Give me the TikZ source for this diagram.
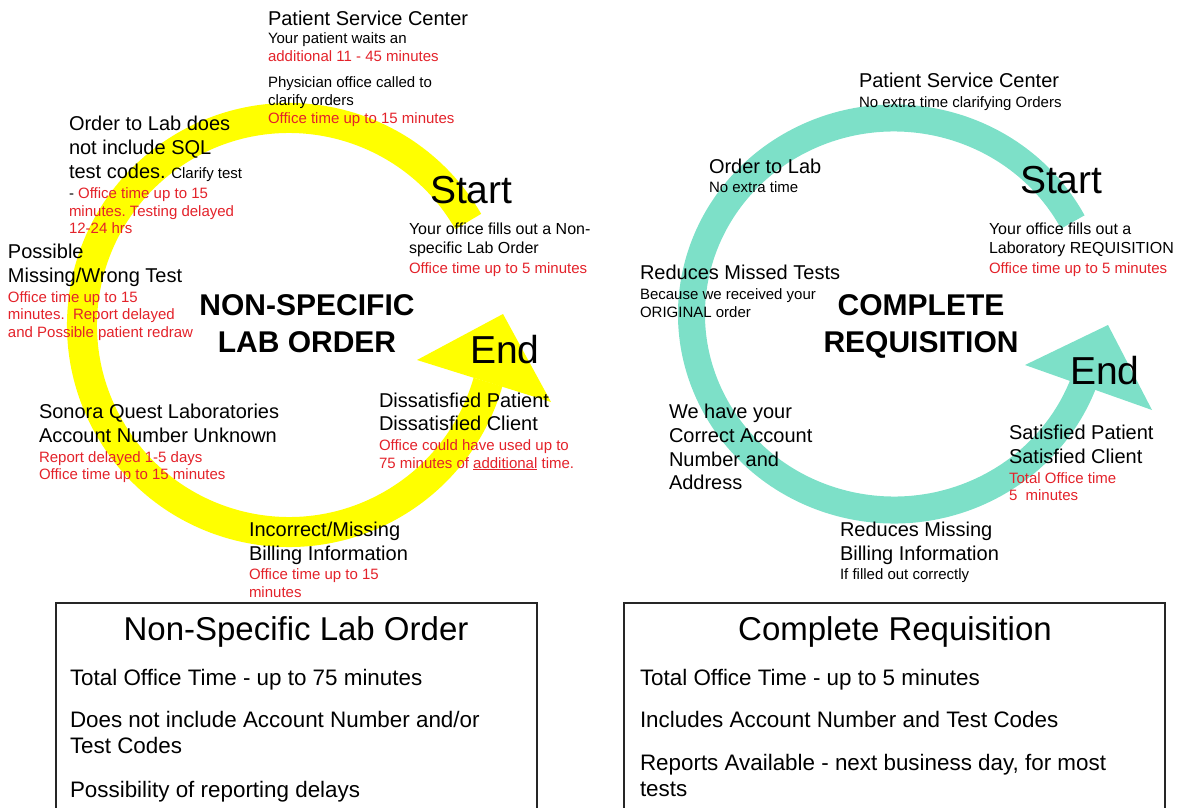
\documentclass[tikz,border=0pt]{standalone}
\usepackage{fontspec}
\setmainfont{Liberation Sans}
\frenchspacing
\definecolor{myred}{HTML}{E3222A}
\definecolor{ringyellow}{HTML}{FFFF00}
\definecolor{ringteal}{HTML}{7DE0C8}
\tikzset{
  lbl/.style={inner sep=0pt, outer sep=0pt, anchor=base west},
  med/.style={lbl, font=\fontsize{20}{24}\selectfont},
  sml/.style={lbl, font=\fontsize{15}{18}\selectfont},
  smr/.style={sml, text=myred},
  mid/.style={lbl, font=\fontsize{16}{19}\selectfont},
  big/.style={lbl, font=\fontsize{39}{44}\selectfont},
  ttl/.style={inner sep=0pt, anchor=base, font=\bfseries\fontsize{30}{34}\selectfont},
  boxt/.style={inner sep=0pt, anchor=base, font=\fontsize{33}{38}\selectfont},
  boxi/.style={lbl, font=\fontsize{22.4}{26}\selectfont},
  yband/.style={draw=ringyellow, line width=30pt},
  tband/.style={draw=ringteal, line width=27pt},
  summary/.style={draw=black!85, line width=1.8pt},
}
\begin{document}
\begin{tikzpicture}[x=1pt, y=-1pt]
\useasboundingbox (0,0) rectangle (1179,808);
\clip (0,0) rectangle (1179,808);

% ---------- yellow ring (left) ----------
\coordinate (yc) at (289,325);
\draw[yband] (yc) ++(-30:207) arc[start angle=-30, end angle=-344, radius=207];
\coordinate (ya) at (417,360);
\coordinate (yt) at (503,314);
\coordinate (yb) at (551,402);
\fill[ringyellow] (ya) -- (yt) -- (yb) -- cycle;

% ---------- teal ring (right) ----------
\coordinate (tc) at (894,314);
\draw[tband] (tc) ++(-28:202.5 and 196) arc[start angle=-28, end angle=-339, x radius=202.5, y radius=196];
\coordinate (ta) at (1025,365);
\coordinate (tt) at (1108,325);
\coordinate (tb) at (1152,410);
\fill[ringteal] (ta) -- (tt) -- (tb) -- cycle;

% ---------- left texts ----------
\node[med] (psc1) at (268,26) {Patient Service Center};
\node[sml] (psc2) at (268,44) {Your patient waits an};
\node[smr] (psc3) at (268,62) {additional 11 - 45 minutes};
\node[sml] (psc4) at (268,88) {Physician office called to};
\node[sml] (psc5) at (268,106) {clarify orders};
\node[smr] (psc6) at (268,124) {Office time up to 15 minutes};

\node[med] (ord1) at (69,130) {Order to Lab does};
\node[med] (ord2) at (69,154) {not include SQL};
\node[med] (ord3) at (69,178) {test codes. {\fontsize{15}{18}\selectfont Clarify test}};
\node[sml] (ord4) at (69,198) {- \textcolor{myred}{Office time up to 15}};
\node[smr] (ord5) at (69,216) {minutes. Testing delayed};
\node[smr] (ord6) at (69,233) {12-24 hrs};

\node[med] (pos1) at (8,258) {Possible};
\node[med] (pos2) at (8,282) {Missing/Wrong Test};
\node[smr] (pos3) at (8,302) {Office time up to 15};
\node[smr] (pos4) at (8,319) {minutes.~~Report delayed};
\node[smr] (pos5) at (8,337) {and Possible patient redraw};

\node[big] (ystart) at (430,203) {Start};
\node[mid] (yof1) at (409,234) {Your office fills out a Non-};
\node[mid] (yof2) at (409,253) {specific Lab Order};
\node[smr] (yof3) at (409,273) {Office time up to 5 minutes};

\node[ttl] (yt1) at (307,315) {NON-SPECIFIC};
\node[ttl] (yt2) at (307,352) {LAB ORDER};

\node[big] (yend) at (470,363) {End};
\node[med] (dis1) at (379,407) {Dissatisfied Patient};
\node[med] (dis2) at (379,430) {Dissatisfied Client};
\node[smr] (dis3) at (379,450) {Office could have used up to};
\node[smr] (dis4) at (379,468) {75 minutes of \underline{additional} time.};

\node[med] (son1) at (39,418) {Sonora Quest Laboratories};
\node[med] (son2) at (39,442) {Account Number Unknown};
\node[smr] (son3) at (39,462) {Report delayed 1-5 days};
\node[smr] (son4) at (39,479) {Office time up to 15 minutes};

\node[med] (inc1) at (249,536) {Incorrect/Missing};
\node[med] (inc2) at (249,560) {Billing Information};
\node[smr] (inc3) at (249,579) {Office time up to 15};
\node[smr] (inc4) at (249,597) {minutes};

% ---------- left summary box ----------
\draw[summary] (56,603) rectangle (537,840);
\node[boxt] (lbt) at (296,640) {Non-Specific Lab Order};
\node[boxi] (lb1) at (70,685) {Total Office Time - up to 75 minutes};
\node[boxi] (lb2) at (70,727) {Does not include Account Number and/or};
\node[boxi] (lb3) at (70,753) {Test Codes};
\node[boxi] (lb4) at (70,797) {Possibility of reporting delays};

% ---------- right texts ----------
\node[med] (rpsc1) at (859,88) {Patient Service Center};
\node[sml] (rpsc2) at (859,107) {No extra time clarifying Orders};
\node[med] (rord1) at (709,173) {Order to Lab};
\node[sml] (rord2) at (709,192) {No extra time};
\node[big] (rstart) at (1020,193) {Start};
\node[mid] (ryof1) at (989,234) {Your office fills out a};
\node[mid] (ryof2) at (989,253) {Laboratory REQUISITION};
\node[smr] (ryof3) at (989,273) {Office time up to 5 minutes};
\node[med] (rmis1) at (640,279) {Reduces Missed Tests};
\node[sml] (rmis2) at (640,299) {Because we received your};
\node[sml] (rmis3) at (640,317) {ORIGINAL order};
\node[ttl] (rt1) at (921,315) {COMPLETE};
\node[ttl] (rt2) at (921,352) {REQUISITION};
\node[big] (rend) at (1070,384) {End};
\node[med] (rwe1) at (669,418) {We have your};
\node[med] (rwe2) at (669,442) {Correct Account};
\node[med] (rwe3) at (669,466) {Number and};
\node[med] (rwe4) at (669,489) {Address};
\node[med] (rsat1) at (1009,439) {Satisfied Patient};
\node[med] (rsat2) at (1009,463) {Satisfied Client};
\node[smr] (rsat3) at (1009,483) {Total Office time};
\node[smr] (rsat4) at (1009,500) {5~~minutes};
\node[med] (rred1) at (840,536) {Reduces Missing};
\node[med] (rred2) at (840,560) {Billing Information};
\node[sml] (rred3) at (840,579) {If filled out correctly};

% ---------- right summary box ----------
\draw[summary] (624,603) rectangle (1165,840);
\node[boxt] (rbt) at (895,640) {Complete Requisition};
\node[boxi] (rb1) at (640,685) {Total Office Time - up to 5 minutes};
\node[boxi] (rb2) at (640,727) {Includes Account Number and Test Codes};
\node[boxi] (rb3) at (640,770) {Reports Available - next business day, for most};
\node[boxi] (rb4) at (640,796) {tests};
\end{tikzpicture}
\end{document}
